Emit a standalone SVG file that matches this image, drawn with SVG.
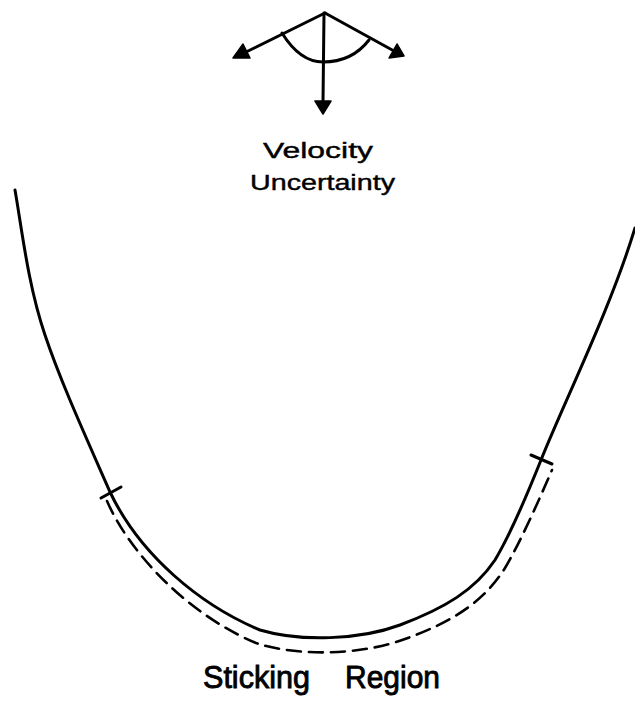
<svg xmlns="http://www.w3.org/2000/svg" width="635" height="711" viewBox="0 0 635 711">
<style>
.ln{fill:none;stroke:#000;stroke-width:3;stroke-linecap:round;stroke-linejoin:round}
.dash{fill:none;stroke:#000;stroke-width:2.6;stroke-dasharray:14 8;stroke-linecap:round}
.head{fill:#000;stroke:#000;stroke-width:1.5;stroke-linejoin:round}
.lbl{font-family:"Liberation Sans",Arial,sans-serif;fill:#000;stroke:#000;stroke-width:0.9}
.sm{stroke-width:0.4}
</style>
<rect width="635" height="711" fill="#fff"/>
<g id="velocity-symbol">
<line class="ln" x1="325" y1="13" x2="244" y2="53"/>
<line class="ln" x1="325" y1="13" x2="394" y2="51"/>
<line class="ln" x1="324" y1="13" x2="323" y2="102"/>
<path class="ln" d="M282,33 Q300,62 323,62 Q352,62 369,40"/>
<polygon class="head" points="233,58 243,44 250,58"/>
<polygon class="head" points="404,56 389,58 397,44"/>
<polygon class="head" points="323,114 315,101 331,101"/>
</g>
<g id="velocity-label">
<text class="lbl sm" x="263" y="158" font-size="22" textLength="110" lengthAdjust="spacingAndGlyphs">Velocity</text>
<text class="lbl sm" x="250" y="190" font-size="22" textLength="145" lengthAdjust="spacingAndGlyphs">Uncertainty</text>
</g>
<g id="connectors">
<path class="ln" d="M15,190 C22,230 28,285 45,335 C60,380 85,435 110,492 C140,555 200,605 260,630 C300,642 360,640 400,625 C445,608 475,590 495,560 C510,535 527,495 541,460 C565,400 610,310 635,228"/>
<path class="dash" d="M107,501 C131,556 191,616 256,643 C298,657 362,655 405,639 C455,621 485,600 505,568 C520,543 539,500 552,470"/>
<line class="ln" x1="101" y1="498" x2="121" y2="487"/>
<line class="ln" x1="531" y1="455" x2="552" y2="464"/>
</g>
<g id="sticking-label">
<text class="lbl" x="203" y="688" font-size="32" textLength="107" lengthAdjust="spacingAndGlyphs">Sticking</text>
<text class="lbl" x="345" y="688" font-size="32" textLength="95" lengthAdjust="spacingAndGlyphs">Region</text>
</g>
</svg>
